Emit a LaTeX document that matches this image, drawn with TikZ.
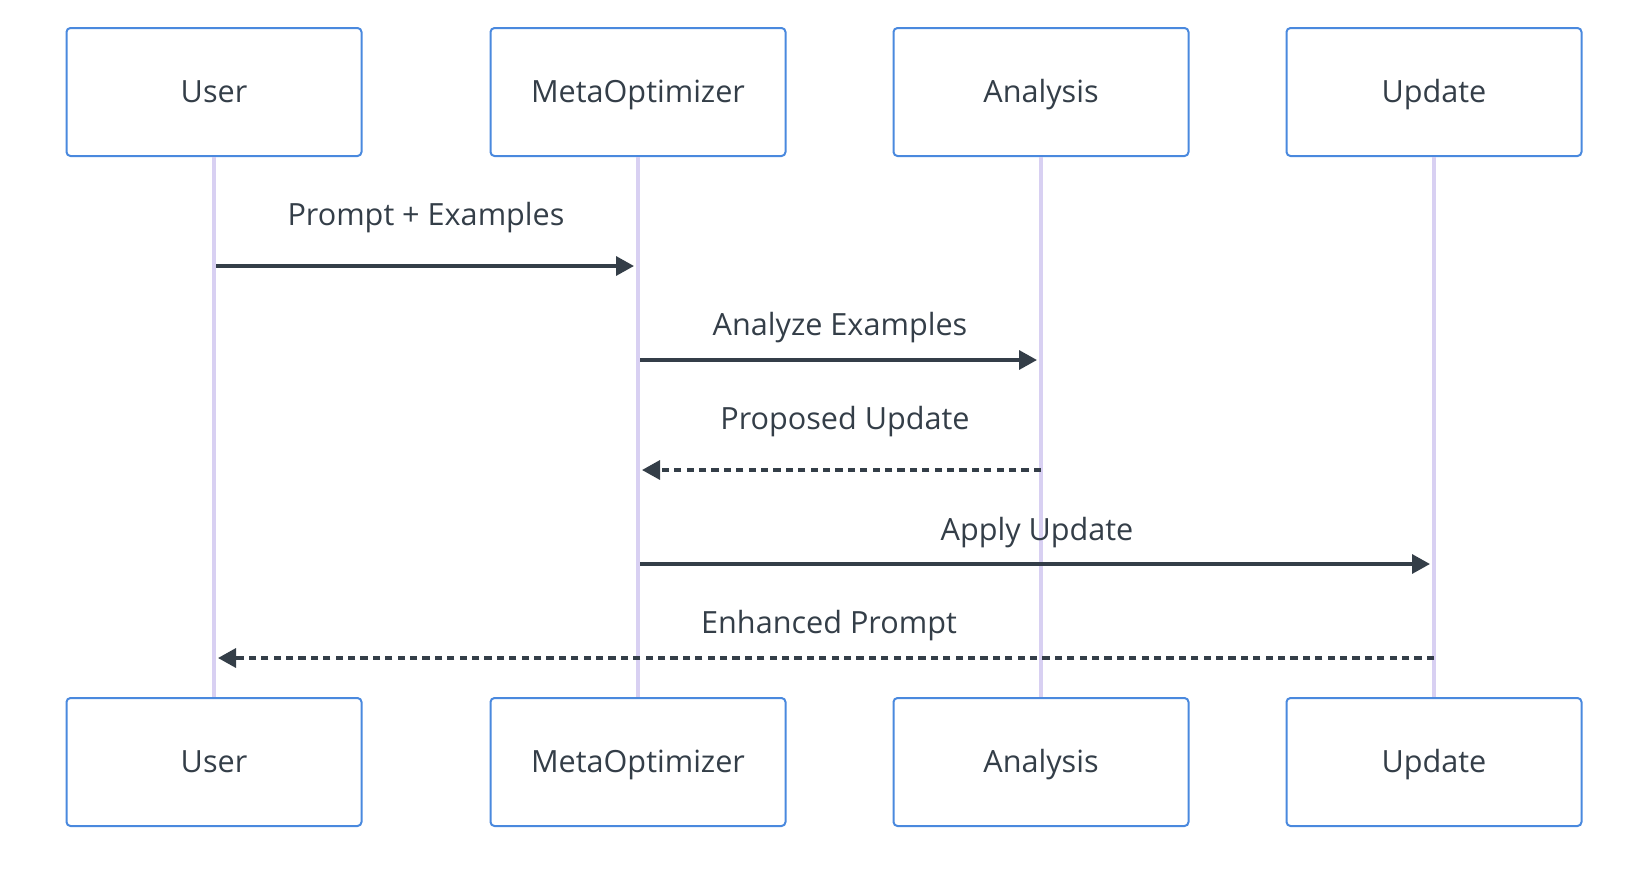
\documentclass[tikz,border=0pt]{standalone}
\usepackage{fontspec}
\setmainfont{Open Sans}
\usetikzlibrary{arrows.meta}

\definecolor{boxblue}{RGB}{74,137,222}
\definecolor{lavender}{RGB}{216,208,242}
\definecolor{ink}{RGB}{52,62,72}

\tikzset{
  actor/.style={draw=boxblue, line width=1pt, rounded corners=2pt, fill=white,
    minimum width=147.5pt, minimum height=64pt, text=ink,
    text height=10.9pt, text depth=0pt, font=\fontsize{15.3}{18}\selectfont},
  lifeline/.style={draw=lavender, line width=1.8pt},
  msg/.style={draw=ink, line width=1.7pt, -{Triangle[length=9pt,width=9.5pt]}},
  reply/.style={msg, dash pattern=on 3.6pt off 2.6pt},
  msglabel/.style={text=ink, inner sep=0pt, text height=10.9pt, text depth=0pt,
    font=\fontsize{15.3}{18}\selectfont},
}

\begin{document}
\begin{tikzpicture}[x=0.5pt, y=-0.5pt]
\useasboundingbox (0,0) rectangle (1634,868);

% Participants, top and bottom
\node[actor] (u1) at (214,92) {User};
\node[actor] (m1) at (638,92) {MetaOptimizer};
\node[actor] (a1) at (1041,92) {Analysis};
\node[actor] (p1) at (1434,92) {Update};
\node[actor] (u2) at (214,762) {User};
\node[actor] (m2) at (638,762) {MetaOptimizer};
\node[actor] (a2) at (1041,762) {Analysis};
\node[actor] (p2) at (1434,762) {Update};

% Lifelines
\draw[lifeline] (u1.south) -- (u2.north);
\draw[lifeline] (m1.south) -- (m2.north);
\draw[lifeline] (a1.south) -- (a2.north);
\draw[lifeline] (p1.south) -- (p2.north);

% Messages
\draw[msg, shorten <=1pt, shorten >=2pt] (u1 |- 0,266) -- (m1 |- 0,266);
\node[msglabel] (l1) at (426,215) {Prompt + Examples};

\draw[msg, shorten <=1pt, shorten >=2pt] (m1 |- 0,360) -- (a1 |- 0,360);
\node[msglabel] (l2) at (840,325) {Analyze Examples};

\draw[reply, shorten >=2pt] (a1 |- 0,470) -- (m1 |- 0,470);
\node[msglabel] (l3) at (845,419) {Proposed Update};

\draw[msg, shorten <=1pt, shorten >=2pt] (m1 |- 0,564) -- (p1 |- 0,564);
\node[msglabel] (l4) at (1037,530) {Apply Update};

\draw[reply, shorten >=2pt] (p1 |- 0,658) -- (u1 |- 0,658);
\node[msglabel] (l5) at (829,623) {Enhanced Prompt};

\end{tikzpicture}
\end{document}
